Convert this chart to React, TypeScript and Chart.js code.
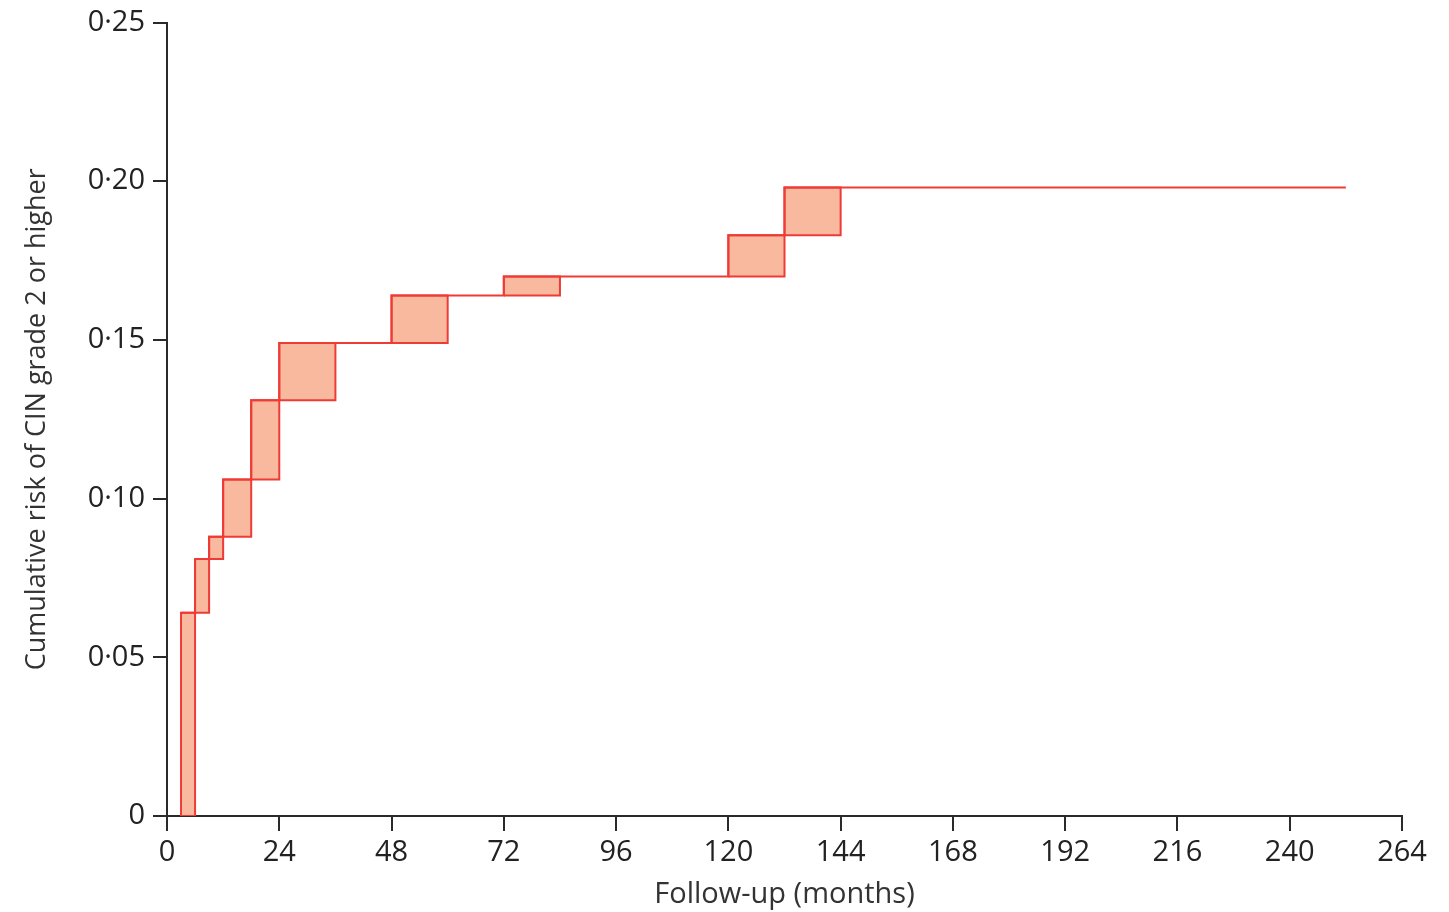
import { useEffect, useRef } from 'react';
import { Chart, registerables } from 'chart.js';

Chart.register(...registerables);

// Interval boxes (months, cumulative risk)
const boxStart = [3, 6, 9, 12, 18, 24, 48, 72, 120, 132];
const boxEnd = [6, 9, 12, 18, 24, 36, 60, 84, 132, 144];
const boxLow = [0, 0.064, 0.081, 0.088, 0.106, 0.131, 0.149, 0.164, 0.17, 0.183];
const boxHigh = [0.064, 0.081, 0.088, 0.106, 0.131, 0.149, 0.164, 0.17, 0.183, 0.198];

// Upper step curve
const stepMonths = [3, 6, 9, 12, 18, 24, 48, 72, 120, 132, 252];
const stepRisk = [0.064, 0.081, 0.088, 0.106, 0.131, 0.149, 0.164, 0.17, 0.183, 0.198, 0.198];

const xTickValues = [0, 24, 48, 72, 96, 120, 144, 168, 192, 216, 240, 264];
const yTickValues = [0, 0.05, 0.1, 0.15, 0.2, 0.25];

const RED = '#EE3B36';
const FILL = '#F9B99E';
const AXIS = '#2a2a2a';
const FONT = '"Open Sans", "Noto Sans", sans-serif';

export default function App() {
  const ref = useRef<HTMLCanvasElement | null>(null);

  useEffect(() => {
    document.body.style.margin = '0';
    const canvas = ref.current;
    if (!canvas) return;

    const boxDatasets = boxStart.map((s, i) => ({
      type: 'line' as const,
      data: [
        { x: s, y: boxLow[i] },
        { x: s, y: boxHigh[i] },
        { x: boxEnd[i], y: boxHigh[i] },
        { x: boxEnd[i], y: boxLow[i] },
        { x: s, y: boxLow[i] },
      ],
      borderColor: RED,
      backgroundColor: FILL,
      borderWidth: 2,
      pointRadius: 0,
      fill: 'shape',
      tension: 0,
      order: 2,
    }));

    const stepDataset = {
      type: 'line' as const,
      data: stepMonths.map((m, i) => ({ x: m, y: stepRisk[i] })),
      borderColor: RED,
      borderWidth: 2,
      pointRadius: 0,
      fill: false,
      stepped: 'before' as const,
      order: 1,
    };

    const chart = new Chart(canvas, {
      type: 'line',
      data: { datasets: [...boxDatasets, stepDataset] as any },
      options: {
        animation: false,
        responsive: false,
        maintainAspectRatio: false,
        parsing: false,
        layout: { padding: { top: 20, right: 47, left: 0, bottom: 0 } },
        plugins: { legend: { display: false }, tooltip: { enabled: false } },
        scales: {
          x: {
            type: 'linear',
            min: 0,
            max: 264,
            afterBuildTicks: (scale: any) => {
              scale.ticks = xTickValues.map((v) => ({ value: v }));
            },
            afterFit: (scale: any) => {
              scale.height = 96;
            },
            grid: {
              drawOnChartArea: false,
              drawTicks: true,
              tickLength: 15,
              color: AXIS,
              lineWidth: 2,
            },
            border: { color: AXIS, width: 2 },
            ticks: {
              color: '#222',
              font: { family: FONT, size: 29 },
              padding: 4,
              maxRotation: 0,
              autoSkip: false,
            },
            title: {
              display: true,
              text: 'Follow-up (months)',
              color: '#333',
              font: { family: FONT, size: 29 },
              padding: { top: 0, bottom: 0 },
            },
          },
          y: {
            type: 'linear',
            min: 0,
            max: 0.25,
            afterBuildTicks: (scale: any) => {
              scale.ticks = yTickValues.map((v) => ({ value: v }));
            },
            afterFit: (scale: any) => {
              scale.width = 167;
            },
            grid: {
              drawOnChartArea: false,
              drawTicks: true,
              tickLength: 14,
              color: AXIS,
              lineWidth: 2,
            },
            border: { color: AXIS, width: 2 },
            ticks: {
              color: '#222',
              font: { family: FONT, size: 29, lineHeight: 1 },
              padding: 8,
              autoSkip: false,
              callback: (v: any) => (Number(v) === 0 ? '0' : Number(v).toFixed(2).replace('.', '\u00B7')),
            },
            title: {
              display: true,
              text: 'Cumulative risk of CIN grade 2 or higher',
              color: '#333',
              font: { family: FONT, size: 27 },
              padding: { top: 21, bottom: 0 },
            },
          },
        },
      } as any,
    });

    return () => chart.destroy();
  }, []);

  return (
    <div style={{ position: 'fixed', left: 0, top: 0, width: 1449, height: 912 }}>
      <canvas ref={ref} width={1449} height={912} style={{ width: 1449, height: 912 }} />
    </div>
  );
}
